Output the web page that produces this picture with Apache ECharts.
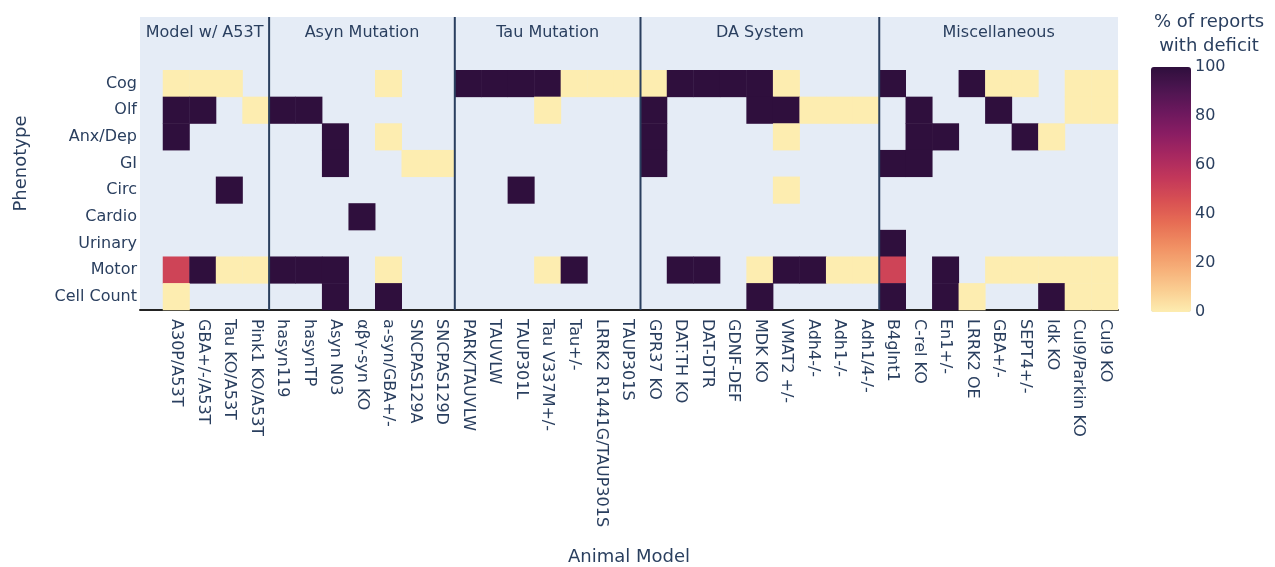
<!DOCTYPE html>
<html>
<head>
<meta charset="utf-8">
<title>Phenotype heatmap</title>
<script src="https://cdn.jsdelivr.net/npm/echarts@6/dist/echarts.min.js"></script>
<style>
  html, body { margin: 0; background: #fff; }
  #chart { width: 1275px; height: 567px; }
</style>
</head>
<body>
<div id="chart"></div>
<script>
// animal models, left to right
const models = [
  'A30P/A53T', 'GBA+/-/A53T', 'Tau KO/A53T', 'Pink1 KO/A53T',
  'hasyn119', 'hasynTP', 'Asyn N03', 'αβγ-syn KO', 'a-syn/GBA+/-', 'SNCPAS129A', 'SNCPAS129D',
  'PARK/TAUVLW', 'TAUVLW', 'TAUP301L', 'Tau V337M+/-', 'Tau+/-', 'LRRK2 R1441G/TAUP301S', 'TAUP301S',
  'GPR37 KO', 'DAT:TH KO', 'DAT-DTR', 'GDNF-DEF', 'MDK KO', 'VMAT2 +/-', 'Adh4-/-', 'Adh1-/-', 'Adh1/4-/-',
  'B4gInt1', 'C-rel KO', 'En1+/-', 'LRRK2 OE', 'GBA+/-', 'SEPT4+/-', 'Idk KO', 'Cul9/Parkin KO', 'Cul9 KO'
]
const groups = ['Model w/ A53T', 'Asyn Mutation', 'Tau Mutation', 'DA System', 'Miscellaneous']
const groupSizes = [4, 7, 7, 9, 9]

// phenotypes, top to bottom
const phenotypes = ['Cog', 'Olf', 'Anx/Dep', 'GI', 'Circ', 'Cardio', 'Urinary', 'Motor', 'Cell Count']
const headerRows = ['  ', ' ']

// % of reports with deficit, one array per phenotype (null = not reported)
const _ = null
const cog = [0, 0, 0, _, _, _, _, _, 0, _, _, 100, 100, 100, 100, 0, 0, 0, 0, 100, 100, 100, 100, 0, _, _, _, 100, _, _, 100, 0, 0, _, 0, 0]
const olf = [100, 100, _, 0, 100, 100, _, _, _, _, _, _, _, _, 0, _, _, _, 100, _, _, _, 100, 100, 0, 0, 0, _, 100, _, _, 100, _, _, 0, 0]
const anxDep = [100, _, _, _, _, _, 100, _, 0, _, _, _, _, _, _, _, _, _, 100, _, _, _, _, 0, _, _, _, _, 100, 100, _, _, 100, 0, _, _]
const gi = [_, _, _, _, _, _, 100, _, _, 0, 0, _, _, _, _, _, _, _, 100, _, _, _, _, _, _, _, _, 100, 100, _, _, _, _, _, _, _]
const circ = [_, _, 100, _, _, _, _, _, _, _, _, _, _, 100, _, _, _, _, _, _, _, _, _, 0, _, _, _, _, _, _, _, _, _, _, _, _]
const cardio = [_, _, _, _, _, _, _, 100, _, _, _, _, _, _, _, _, _, _, _, _, _, _, _, _, _, _, _, _, _, _, _, _, _, _, _, _]
const urinary = [_, _, _, _, _, _, _, _, _, _, _, _, _, _, _, _, _, _, _, _, _, _, _, _, _, _, _, 100, _, _, _, _, _, _, _, _]
const motor = [50, 100, 0, 0, 100, 100, 100, _, 0, _, _, _, _, _, 0, 100, _, _, _, 100, 100, _, 0, 100, 100, 0, 0, 50, _, 100, _, 0, 0, 0, 0, 0]
const cellCount = [0, _, _, _, _, _, 100, _, 100, _, _, _, _, _, _, _, _, _, _, _, _, _, 100, _, _, _, _, 100, _, 100, 0, _, _, 100, 0, 0]
const rows = [cog, olf, anxDep, gi, circ, cardio, urinary, motor, cellCount]

// colour scale (low -> high)
const scaleColors = [
  '#fdedb0', '#facd91', '#f6ad77', '#f08e62', '#e76d54', '#d85053',
  '#c3385a', '#a82860', '#8a1d63', '#6b185d', '#4c1550', '#2f0f3d'
]

const textColor = '#2a3f5f'
const fontFamily = '"DejaVu Sans", Verdana, sans-serif'
const yCats = headerRows.concat(phenotypes)

const heatData = []
rows.forEach((row, r) => {
  row.forEach((v, c) => {
    if (v !== null) heatData.push([c, r + headerRows.length, v])
  })
})

const chart = echarts.init(document.getElementById('chart'))

chart.setOption({
  animation: false,
  textStyle: { fontFamily: fontFamily },
  grid: [
    // plot background (includes a little padding left of the first column)
    { left: 140, right: 157, top: 17, bottom: 257, show: true, backgroundColor: '#E5ECF6', borderWidth: 0, outerBoundsMode: 'none' },
    { left: 163, right: 157, top: 17, bottom: 257, outerBoundsMode: 'none' },
    // colour bar labels
    { left: 1151, top: 67, width: 40, height: 245, outerBoundsMode: 'none' }
  ],
  xAxis: [
    {
      gridIndex: 0,
      type: 'value',
      min: 0,
      max: 1,
      axisLabel: { show: false },
      axisTick: { show: false },
      splitLine: { show: false },
      axisLine: { show: true, lineStyle: { color: '#222', width: 2 } },
      name: 'Animal Model',
      nameLocation: 'middle',
      nameGap: 238,
      nameTextStyle: { color: textColor, fontSize: 18, fontFamily: fontFamily }
    },
    {
      gridIndex: 1,
      type: 'category',
      data: models,
      axisLine: { show: false },
      axisTick: { show: false },
      splitLine: { show: false },
      axisLabel: { interval: 0, rotate: -90, margin: 9, color: textColor, fontSize: 16 }
    },
    { gridIndex: 2, type: 'value', show: false }
  ],
  yAxis: [
    {
      gridIndex: 0,
      type: 'category',
      data: yCats,
      inverse: true,
      axisLine: { show: false },
      axisTick: { show: false },
      splitLine: { show: false },
      axisLabel: { margin: 3, color: textColor, fontSize: 16 },
      name: 'Phenotype',
      nameLocation: 'middle',
      nameGap: 110,
      nameTextStyle: { color: textColor, fontSize: 18, fontFamily: fontFamily }
    },
    {
      gridIndex: 1,
      type: 'category',
      data: yCats,
      inverse: true,
      show: false
    },
    {
      gridIndex: 2,
      type: 'value',
      min: 0,
      max: 100,
      interval: 20,
      position: 'right',
      axisLine: { show: false },
      axisTick: { show: false },
      splitLine: { show: false },
      axisLabel: { margin: 4, color: textColor, fontSize: 16 }
    }
  ],
  visualMap: {
    type: 'continuous',
    seriesIndex: 0,
    min: 0,
    max: 100,
    calculable: false,
    orient: 'vertical',
    left: 1151,
    top: 67,
    padding: 0,
    itemWidth: 40,
    itemHeight: 245,
    text: null,
    inRange: { color: scaleColors }
  },
  series: [
    {
      type: 'heatmap',
      xAxisIndex: 1,
      yAxisIndex: 1,
      data: heatData,
      emphasis: { disabled: true }
    }
  ]
})

// group separators and group titles, placed from the axes
const xAt = (i) => chart.convertToPixel({ xAxisIndex: 1 }, models[i])
const yAt = (i) => chart.convertToPixel({ yAxisIndex: 1 }, yCats[i])
const bandW = xAt(1) - xAt(0)
const bandH = yAt(1) - yAt(0)
const plotLeft = chart.convertToPixel({ xAxisIndex: 0 }, 0)
const plotRight = chart.convertToPixel({ xAxisIndex: 0 }, 1)
const plotTop = yAt(0) - bandH / 2
const plotBottom = yAt(yCats.length - 1) + bandH / 2

const graphics = []
let start = 0
groups.forEach((g, k) => {
  const left = k === 0 ? plotLeft : xAt(start) - bandW / 2
  const end = start + groupSizes[k]
  const right = end >= models.length ? plotRight : xAt(end) - bandW / 2
  if (k > 0) {
    graphics.push({
      type: 'line',
      shape: { x1: left, y1: plotTop, x2: left, y2: plotBottom },
      style: { stroke: textColor, lineWidth: 2 },
      z: 10
    })
  }
  graphics.push({
    type: 'text',
    x: (left + right) / 2,
    y: yAt(0) + 3,
    style: {
      text: g, align: 'center', verticalAlign: 'middle',
      fill: textColor, fontSize: 16, fontFamily: fontFamily
    },
    z: 10
  })
  start = end
})

// colour bar title
graphics.push({
  type: 'text',
  x: 1209,
  y: 34,
  style: {
    text: '% of reports\nwith deficit', align: 'center', verticalAlign: 'middle',
    lineHeight: 24, fill: textColor, fontSize: 18, fontFamily: fontFamily
  }
})

chart.setOption({ graphic: graphics })
</script>
</body>
</html>
